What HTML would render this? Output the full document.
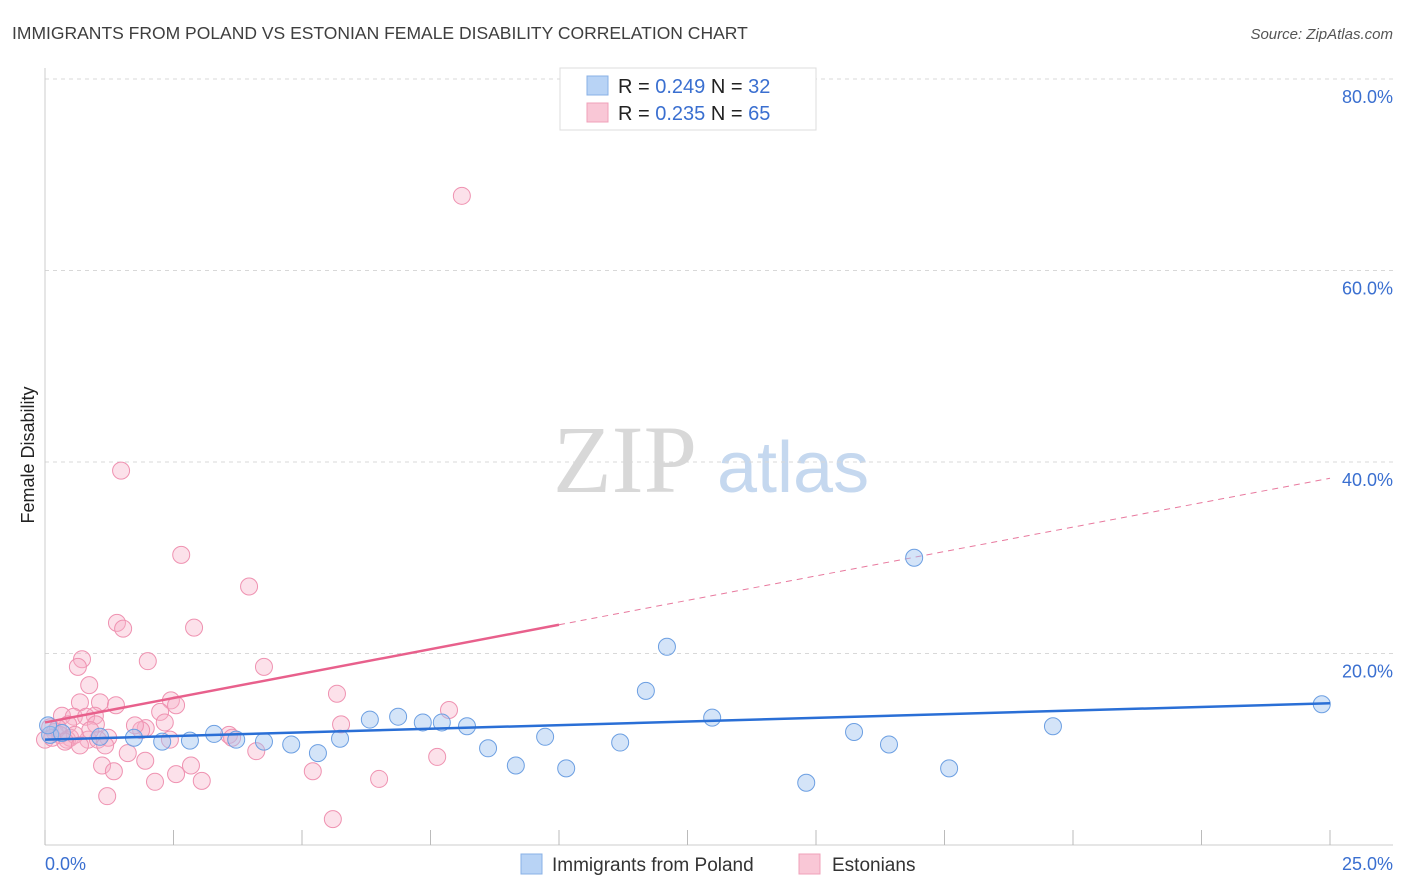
<!DOCTYPE html>
<html><head><meta charset="utf-8"><style>
body{margin:0;background:#fff;font-family:"Liberation Sans",sans-serif;}
svg{display:block}
</style></head><body>
<svg id="chart" width="1406" height="892">
<text x="12" y="39" font-size="17.5" fill="#3e3e3e">IMMIGRANTS FROM POLAND VS ESTONIAN FEMALE DISABILITY CORRELATION CHART</text>
<text x="1393" y="39" font-size="15" fill="#555" font-style="italic" text-anchor="end">Source: ZipAtlas.com</text>
<text x="34" y="455" font-size="18" fill="#222" text-anchor="middle" transform="rotate(-90 34 455)">Female Disability</text>
<g>
<text x="553" y="492" font-size="96" font-family="Liberation Serif,serif" fill="#d8d8d8">ZIP</text>
<text x="717" y="492" font-size="72" fill="#c5d8ef">atlas</text>
</g>
<g id="grid"></g>
<g id="axes"></g>
<g id="lines"></g>
<g id="pts"></g>
<g>
<rect x="560" y="68" width="256" height="62" fill="#fff" stroke="#ddd"/>
<rect x="587" y="76" width="21" height="19" fill="#b8d3f5" stroke="#88b0e6"/>
<rect x="587" y="103" width="21" height="19" fill="#f9c7d6" stroke="#f0a0ba"/>
<text x="618" y="93" font-size="20" fill="#222">R = <tspan fill="#3a6fd0">0.249</tspan>   N = <tspan fill="#3a6fd0">32</tspan></text>
<text x="618" y="120" font-size="20" fill="#222">R = <tspan fill="#3a6fd0">0.235</tspan>   N = <tspan fill="#3a6fd0">65</tspan></text>
</g>
<g>
<rect x="521" y="854" width="21" height="20" fill="#b8d3f5" stroke="#88b0e6"/>
<text x="552" y="871" font-size="19" fill="#333">Immigrants from Poland</text>
<rect x="799" y="854" width="21" height="20" fill="#f9c7d6" stroke="#f0a0ba"/>
<text x="832" y="871" font-size="19" fill="#333">Estonians</text>
</g>
</svg>
<script>
const yTicks=[20,40,60,80];
const yTickLabels=["20.0%","40.0%","60.0%","80.0%"];
const xTickLabels=["0.0%","25.0%"];
const polandX=[0.10,0.33,0.06,1.07,1.73,2.28,2.82,3.29,3.72,4.26,4.79,5.31,5.74,6.32,6.87,7.35,7.72,8.21,8.62,9.16,9.73,10.14,11.19,11.69,12.10,12.98,14.81,15.74,16.42,16.91,17.59,19.61,24.84];
const polandY=[11.5,11.7,12.5,11.3,11.2,10.8,10.9,11.6,11.0,10.8,10.5,9.6,11.1,13.1,13.4,12.8,12.8,12.4,10.1,8.3,11.3,8.0,10.7,16.1,20.7,13.3,6.5,11.8,10.5,30.0,8.0,12.4,14.7];
const estX=[8.11,1.48,2.65,3.97,1.40,1.52,2.90,2.0,0.72,0.64,4.26,0.86,5.68,0.68,1.07,1.38,2.45,2.55,7.86,2.24,0.33,0.56,0.97,0.80,2.33,5.76,0.45,0.99,1.96,1.87,0.10,0.19,0.29,0.49,1.23,0.0,0.43,0.84,1.03,2.43,3.58,1.17,1.61,4.11,1.11,1.34,1.95,2.84,2.55,2.14,3.05,5.21,6.50,7.63,1.21,5.60,0.88,0.58,0.25,0.39,0.68,0.14,3.64,1.75];
const estY=[67.8,39.1,30.3,27.0,23.2,22.6,22.7,19.2,19.4,18.6,18.6,16.7,15.8,14.9,14.9,14.6,15.1,14.6,14.1,13.9,13.5,13.4,13.5,13.4,12.8,12.6,12.6,12.6,12.2,12.0,12.3,11.8,11.5,11.2,11.2,11.0,11.0,11.0,11.0,11.0,11.5,10.4,9.6,9.8,8.3,7.7,8.8,8.3,7.4,6.6,6.7,7.7,6.9,9.2,5.1,2.7,12.0,11.5,12.2,10.8,10.4,11.2,11.2,12.5];
const polandTrend=[11.0,14.8];
const estTrend=[12.8,38.3];
const estSolidEnd=10;
const NS="http://www.w3.org/2000/svg";
const X=v=>45+v*51.4;
const Y=v=>845-v*9.575;
function mk(t,a,p){const e=document.createElementNS(NS,t);for(const k in a)e.setAttribute(k,a[k]);p.appendChild(e);return e;}
const grid=document.getElementById('grid'),axes=document.getElementById('axes'),lines=document.getElementById('lines'),pts=document.getElementById('pts');
yTicks.forEach((t,i)=>{
 const l=mk('line',{x1:45,x2:1393,y1:Y(t),y2:Y(t),stroke:'#d8d8d8','stroke-dasharray':'4,4'},grid);
 
 
 const tx=mk('text',{x:1393,y:Y(t)+24,'font-size':18,fill:'#3a6fd0','text-anchor':'end'},grid);
 tx.textContent=yTickLabels[i];
 
 
});
const ax=mk('line',{x1:45,x2:45,y1:68,y2:845,stroke:'#ccc'},axes);


const bx=mk('line',{x1:45,x2:1393,y1:845,y2:845,stroke:'#ccc'},axes);


for(let i=0;i<=10;i++){const t=mk('line',{x1:X(i*2.5),x2:X(i*2.5),y1:830,y2:845,stroke:'#bbb'},axes);
 
 }
const xl0=mk('text',{x:45,y:870,'font-size':18,fill:'#3a6fd0'},axes);xl0.textContent=xTickLabels[0];


const xl1=mk('text',{x:1393,y:870,'font-size':18,fill:'#3a6fd0','text-anchor':'end'},axes);xl1.textContent=xTickLabels[1];


const ey=x=>estTrend[0]+(estTrend[1]-estTrend[0])*x/25;
const pd=mk('line',{x1:X(estSolidEnd),y1:Y(ey(estSolidEnd)),x2:X(25),y2:Y(estTrend[1]),stroke:'#e8799e','stroke-width':1,'stroke-dasharray':'6,5'},lines);


estX.forEach((x,i)=>{const c=mk('circle',{cx:X(x),cy:Y(estY[i]),r:8.5,fill:'rgba(246,175,199,0.38)',stroke:'#ef92b1','stroke-width':1},pts);
 
 });
polandX.forEach((x,i)=>{const c=mk('circle',{cx:X(x),cy:Y(polandY[i]),r:8.5,fill:'rgba(160,196,240,0.45)',stroke:'#6c9fe2','stroke-width':1},pts);
 
 });
const ps=mk('line',{x1:X(0),y1:Y(estTrend[0]),x2:X(estSolidEnd),y2:Y(ey(estSolidEnd)),stroke:'#e8608c','stroke-width':2.5},pts);


const bl=mk('line',{x1:X(0),y1:Y(polandTrend[0]),x2:X(25),y2:Y(polandTrend[1]),stroke:'#2a6fd6','stroke-width':2.5},pts);


</script>
</body></html>
